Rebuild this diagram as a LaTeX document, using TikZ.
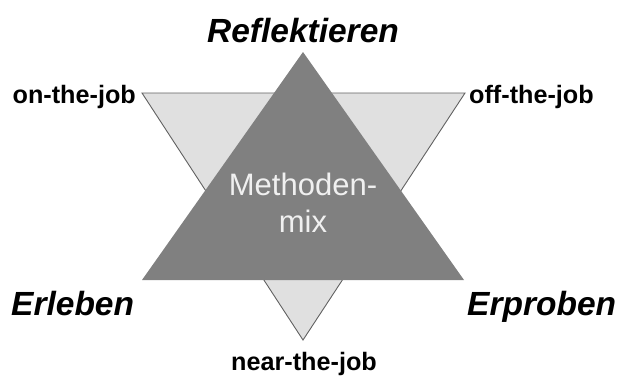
\documentclass[tikz,border=0pt]{standalone}
\usepackage{fontspec}
\setmainfont{Liberation Sans}
\begin{document}
\begin{tikzpicture}[x=1pt,y=-1pt,
  corner/.style={font=\fontsize{33.5}{38}\selectfont\bfseries\itshape, inner sep=0pt},
  joblabel/.style={font=\fontsize{25.2}{29}\selectfont\bfseries, inner sep=0pt},
  centre/.style={font=\fontsize{31}{35}\selectfont, text=white!94!black, inner sep=0pt},
  lighttri/.style={fill=black!12, draw=black!62, line width=0.9pt, line join=miter},
  darktri/.style={fill=black!50, draw=none}]
\useasboundingbox (0,0) rectangle (617,376);
% corner points of the two triangles
\coordinate (dl) at (142,93);
\coordinate (dr) at (465,93);
\coordinate (db) at (303,340);
\coordinate (ut) at (303,52);
\coordinate (ul) at (142,280);
\coordinate (ur) at (464,280);
% light triangle pointing down, dark triangle pointing up on top of it
\draw[lighttri] (dl) -- (dr) -- (db) -- cycle;
\fill[darktri] (ut) -- (ur) -- (ul) -- cycle;
% labels
\node[corner, anchor=base] (refl) at (303,42) {Reflektieren};
\node[corner, anchor=base west] (erl) at (11,315) {Erleben};
\node[corner, anchor=base west] (erp) at (467,315) {Erproben};
\node[joblabel, anchor=base east] (on) at (136,103) {on-the-job};
\node[joblabel, anchor=base west] (off) at (469,103) {off-the-job};
\node[joblabel, anchor=base] (near) at (304,370) {near-the-job};
\node[centre, anchor=base] (meth) at (303,195) {Methoden-};
\node[centre, anchor=base] (mix) at (303,232) {mix};
\end{tikzpicture}
\end{document}
